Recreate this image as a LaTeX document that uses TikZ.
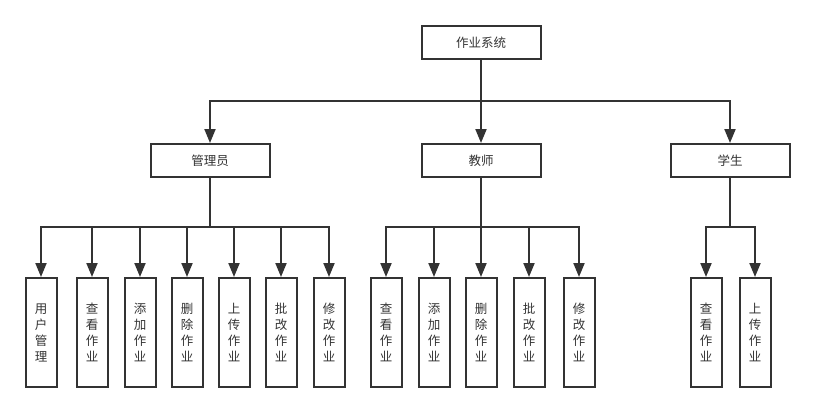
\documentclass[tikz,border=0pt]{standalone}
\usepackage{fontspec}
\newfontfamily\cjk{Noto Sans CJK SC}
\usetikzlibrary{arrows.meta}
\definecolor{linegray}{HTML}{333333}

\begin{document}
\begin{tikzpicture}[x=1pt, y=-1pt,
		box/.style={draw=linegray, fill=white, line width=2pt, minimum width=119pt, minimum height=33pt, inner sep=0pt, font=\cjk\fontsize{12.5}{16}\selectfont, text=linegray},
		leaf/.style={box, minimum width=31pt, minimum height=109pt, align=center},
		arr/.style={-{Triangle[length=14pt,width=11pt]}, line width=2pt, draw=linegray}]
		\useasboundingbox (0,0) rectangle (816,413);

		\node[box] (sys) at (481,42.5) {作业系统};
		\node[box] (adm) at (210,160.5) {管理员};
		\node[box] (tea) at (481,160.5) {教师};
		\node[box] (stu) at (730,160.5) {学生};

		\node[leaf] (adm1) at (41,332.5) {用\\户\\管\\理};
		\node[leaf] (adm2) at (92,332.5) {查\\看\\作\\业};
		\node[leaf] (adm3) at (140,332.5) {添\\加\\作\\业};
		\node[leaf] (adm4) at (187,332.5) {删\\除\\作\\业};
		\node[leaf] (adm5) at (234,332.5) {上\\传\\作\\业};
		\node[leaf] (adm6) at (281,332.5) {批\\改\\作\\业};
		\node[leaf] (adm7) at (329,332.5) {修\\改\\作\\业};

		\node[leaf] (tea1) at (386,332.5) {查\\看\\作\\业};
		\node[leaf] (tea2) at (434,332.5) {添\\加\\作\\业};
		\node[leaf] (tea3) at (481,332.5) {删\\除\\作\\业};
		\node[leaf] (tea4) at (529,332.5) {批\\改\\作\\业};
		\node[leaf] (tea5) at (579,332.5) {修\\改\\作\\业};

		\node[leaf] (stu1) at (706,332.5) {查\\看\\作\\业};
		\node[leaf] (stu2) at (755,332.5) {上\\传\\作\\业};

		\draw[arr] (sys.south) -- (tea.north);
		\draw[arr] (sys.south) -- ++(0,41) -| (adm.north);
		\draw[arr] (sys.south) -- ++(0,41) -| (stu.north);

		\draw[arr] (adm.south) -- ++(0,49) -| (adm1.north);
		\draw[arr] (adm.south) -- ++(0,49) -| (adm2.north);
		\draw[arr] (adm.south) -- ++(0,49) -| (adm3.north);
		\draw[arr] (adm.south) -- ++(0,49) -| (adm4.north);
		\draw[arr] (adm.south) -- ++(0,49) -| (adm5.north);
		\draw[arr] (adm.south) -- ++(0,49) -| (adm6.north);
		\draw[arr] (adm.south) -- ++(0,49) -| (adm7.north);

		\draw[arr] (tea.south) -- ++(0,49) -| (tea1.north);
		\draw[arr] (tea.south) -- ++(0,49) -| (tea2.north);
		\draw[arr] (tea.south) -- (tea3.north);
		\draw[arr] (tea.south) -- ++(0,49) -| (tea4.north);
		\draw[arr] (tea.south) -- ++(0,49) -| (tea5.north);

		\draw[arr] (stu.south) -- ++(0,49) -| (stu1.north);
		\draw[arr] (stu.south) -- ++(0,49) -| (stu2.north);
	\end{tikzpicture}
\end{document}
